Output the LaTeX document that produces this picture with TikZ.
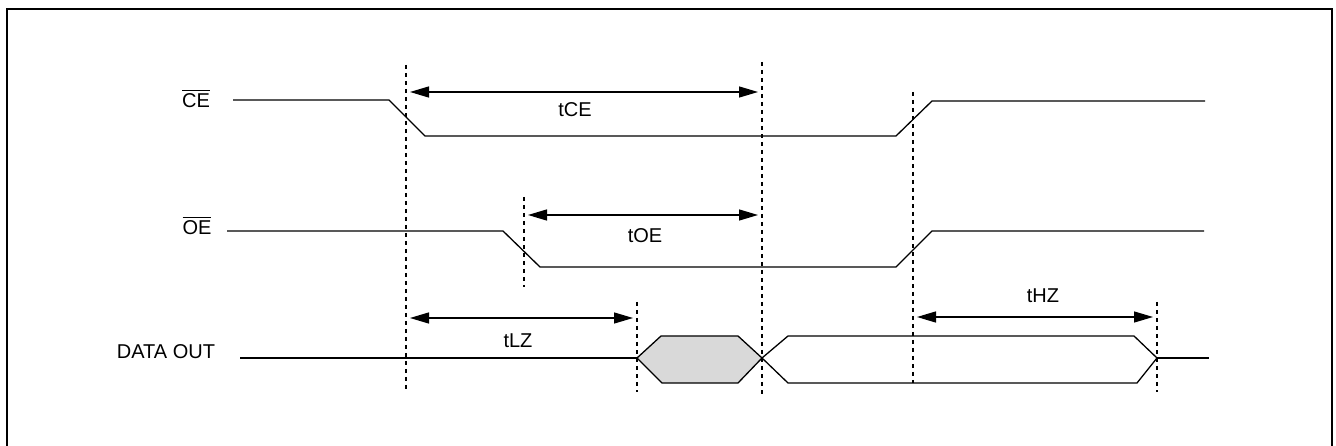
\documentclass[tikz,border=0pt]{standalone}
\usepackage{fontspec}
\setmainfont{Liberation Sans}
\usetikzlibrary{arrows.meta}

\begin{document}
\begin{tikzpicture}[x=1pt,y=-1pt,
		sig/.style={line width=1.3pt},
		guide/.style={line width=1.2pt, dash pattern=on 4pt off 4pt},
		span/.style={line width=1.3pt, shorten <=4pt, shorten >=4pt,
			{Triangle[length=19pt,width=11pt]}-{Triangle[length=19pt,width=11pt]}},
		lbl/.style={anchor=base, inner sep=0pt, font=\fontsize{20}{24}\selectfont}]
				\clip (0,0) rectangle (1336,446);
				\draw[line width=2.5pt] (7,9) rectangle (1332,470);
				
				% signal names
				\node[lbl] (CE) at (196,108) {$\overline{\mbox{\strut CE}}$};
				\node[lbl] (OE) at (197,235) {$\overline{\mbox{\strut OE}}$};
				\node[lbl] (DO) at (166,358) {DATA OUT};
				
				% waveforms
				\draw[sig] (233,100) -- (389,100) -- (425,136) -- (896,136) -- (932,101) -- (1205,101);
				\draw[sig] (227,231) -- (503,231) -- (540,267) -- (896,267) -- (932,231) -- (1204,231);
				\draw[sig] (240,358) -- (637,358);
				\draw[sig, fill=gray!30] (637,358) -- (661,336) -- (738,336) -- (762,358) -- (738,383) -- (662,383) -- cycle;
				\draw[sig] (762,358) -- (788,336) -- (1134,336) -- (1157,358) -- (1137,383) -- (788,383) -- cycle;
				\draw[sig] (1157,358) -- (1209,358);
				
				% dashed guides
				\draw[guide] (406,65) -- (406,390);
				\draw[guide] (524,197) -- (524,287);
				\draw[guide] (637,302) -- (637,392);
				\draw[guide] (762,62) -- (762,395);
				\draw[guide] (913,92) -- (913,383);
				\draw[guide] (1157,302) -- (1157,392);
				
				% timing spans
				\coordinate (ceA) at (406,92);
				\coordinate (ceB) at (762,92);
				\coordinate (oeA) at (524,215);
				\coordinate (oeB) at (762,215);
				\coordinate (lzA) at (406,318);
				\coordinate (lzB) at (637,318);
				\coordinate (hzA) at (913,317);
				\coordinate (hzB) at (1157,317);
				
				\draw[span] (ceA) -- (ceB);
				\draw[span] (oeA) -- (oeB);
				\draw[span] (lzA) -- (lzB);
				\draw[span] (hzA) -- (hzB);
				
				\node[lbl] (tCE) at (575,117) {tCE};
				\node[lbl] (tOE) at (645,243) {tOE};
				\node[lbl] (tLZ) at (518,347) {tLZ};
				\node[lbl] (tHZ) at (1043,303) {tHZ};
			\end{tikzpicture}
\end{document}
